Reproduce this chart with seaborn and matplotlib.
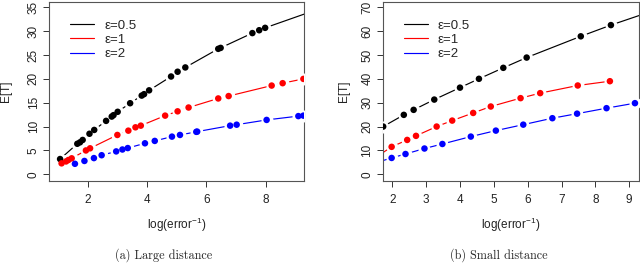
import numpy as np
import pandas as pd
import matplotlib
matplotlib.use("Agg")
import matplotlib.pyplot as plt
import matplotlib.transforms as mtransforms
import seaborn as sns

# ---------------- data ----------------
series_labels = ["ε=0.5", "ε=1", "ε=2"]
series_colors = ["black", "red", "blue"]

# (a) Large distance
a_black_x = [1.07, 1.65, 1.74, 1.83, 2.06, 2.22, 2.62, 2.81, 2.87, 3.01, 3.43, 3.82, 3.90, 4.07,
             4.81, 5.03, 5.29, 6.40, 6.48, 7.55, 7.78, 7.98, 9.90]
a_black_y = [3.2, 6.4, 6.7, 7.2, 8.5, 9.3, 11.2, 12.1, 12.4, 13.1, 14.9, 16.5, 16.8, 17.6,
             20.5, 21.5, 22.4, 26.3, 26.5, 29.6, 30.2, 30.7, 34.9]
a_red_x = [1.12, 1.27, 1.35, 1.46, 1.94, 2.08, 3.00, 3.37, 3.61, 3.79, 4.61, 5.03, 5.40,
           6.40, 6.75, 8.20, 8.57, 9.27]
a_red_y = [2.3, 2.7, 3.0, 3.35, 5.0, 5.45, 8.25, 9.15, 9.85, 10.2, 12.3, 13.2, 14.0,
           15.9, 16.4, 18.6, 19.1, 20.0]
a_blue_x = [1.57, 1.89, 2.21, 2.47, 2.96, 3.17, 3.35, 3.93, 4.26, 4.84, 5.11, 5.66, 5.69,
            6.80, 7.02, 8.03, 9.10, 9.27]
a_blue_y = [2.2, 2.8, 3.4, 4.0, 4.8, 5.2, 5.5, 6.5, 7.0, 7.9, 8.25, 8.9, 8.95,
            10.2, 10.4, 11.4, 12.2, 12.3]

# (b) Small distance
b_black_x = [1.73, 2.34, 2.63, 3.24, 4.00, 4.56, 5.28, 5.97, 7.57, 8.46, 9.50]
b_black_y = [20.0, 24.9, 27.0, 31.3, 36.3, 40.0, 44.6, 48.9, 57.8, 62.5, 67.5]
b_red_x = [1.50, 1.98, 2.44, 2.70, 3.31, 3.77, 4.39, 4.91, 5.79, 6.37, 7.48, 8.43]
b_red_y = [7.0, 11.5, 14.4, 16.1, 20.0, 22.5, 25.7, 28.4, 31.9, 34.0, 37.2, 39.0]
b_blue_x = [1.50, 1.98, 2.39, 2.95, 3.48, 4.32, 5.06, 5.87, 6.73, 7.46, 8.33, 9.17]
b_blue_y = [4.8, 6.85, 8.5, 10.8, 12.7, 15.8, 18.3, 20.8, 23.5, 25.4, 27.7, 29.8]

a_xticks = [2, 4, 6, 8]
a_yticks = [0, 5, 10, 15, 20, 25, 30, 35]
b_xticks = [2, 3, 4, 5, 6, 7, 8, 9]
b_yticks = [0, 10, 20, 30, 40, 50, 60, 70]

xlabel = "log(error$^{-1}$)"
ylabel = "E[T]"
captions = ["(a) Large distance", "(b) Small distance"]


def make_df(xs, ys):
    frames = []
    for lab, x, y in zip(series_labels, xs, ys):
        frames.append(pd.DataFrame({"x": x, "y": y, "series": lab}))
    return pd.concat(frames, ignore_index=True)


df_a = make_df([a_black_x, a_red_x, a_blue_x], [a_black_y, a_red_y, a_blue_y])
df_b = make_df([b_black_x, b_red_x, b_blue_x], [b_black_y, b_red_y, b_blue_y])

# ---------------- style ----------------
sns.set_style("white")
plt.rcParams["font.family"] = ["Liberation Sans", "DejaVu Sans"]
plt.rcParams["mathtext.fontset"] = "custom"
plt.rcParams["mathtext.rm"] = "Liberation Sans"
plt.rcParams["mathtext.it"] = "Liberation Sans"

palette = dict(zip(series_labels, series_colors))

fig = plt.figure(figsize=(6.4, 2.64), dpi=100)
W, H = 640.0, 264.0


def axes_px(x0, x1, y0, y1):
    return fig.add_axes([x0 / W, 1 - y1 / H, (x1 - x0) / W, (y1 - y0) / H])


ax_a = axes_px(49, 304.3, 1.7, 180.7)
ax_b = axes_px(382.7, 639, 1.7, 180.7)

setups = [
    (ax_a, df_a, (0.696, 9.30), (-1.34, 36.18), a_xticks, a_yticks, 6.0),
    (ax_b, df_b, (1.716, 9.29), (-2.68, 72.3), b_xticks, b_yticks, 344.0),
]

for ax, df, xl, yl, xt, yt, ylab_x in setups:
    sns.lineplot(data=df, x="x", y="y", hue="series", palette=palette,
                 sort=False, estimator=None, linewidth=0.85, ax=ax, zorder=2,
                 legend=True)
    # white halos to leave gaps around points (R type="b")
    sns.scatterplot(data=df, x="x", y="y", color="white", s=75, linewidth=0,
                    ax=ax, zorder=3, legend=False)
    sns.scatterplot(data=df, x="x", y="y", hue="series", palette=palette,
                    s=22, linewidth=0, ax=ax, zorder=4, legend=False)
    ax.set_xlim(*xl)
    ax.set_ylim(*yl)
    ax.set_xticks(xt)
    ax.set_yticks(yt)
    ax.set_xticklabels([str(v) for v in xt])
    ax.set_yticklabels([str(v) for v in yt], rotation=90, va="center")
    ax.tick_params(axis="both", direction="out", length=4.3, width=0.7,
                   colors="#333333", labelcolor="#222222", labelsize=8.5,
                   bottom=True, left=True)
    ax.tick_params(axis="x", pad=5.5)
    ax.tick_params(axis="y", pad=2.5)
    for sp in ax.spines.values():
        sp.set_visible(True)
        sp.set_color("#555555")
        sp.set_linewidth(0.8)
    ax.set_xlabel(xlabel, fontsize=8.5, color="#222222")
    ax.set_ylabel(ylabel, fontsize=8.5, color="#222222")
    # place axis labels at pixel positions
    ax.xaxis.set_label_coords(0.5, 1 - 225 / H,
                              transform=mtransforms.blended_transform_factory(ax.transAxes, fig.transFigure))
    ax.xaxis.label.set_va("center")
    ax.yaxis.set_label_coords(ylab_x / W, 0.5,
                              transform=mtransforms.blended_transform_factory(fig.transFigure, ax.transAxes))
    ax.yaxis.label.set_va("center")
    handles, labels = ax.get_legend_handles_labels()
    ax.legend(handles, labels, loc="upper left", frameon=False, fontsize=9.5,
              handlelength=1.8, handletextpad=0.75, labelspacing=0.15,
              borderaxespad=0.0, bbox_to_anchor=(0.063, 0.93))

for ax in (ax_a, ax_b):
    leg = ax.get_legend()
    for ln in leg.get_lines():
        ln.set_linewidth(0.85)

fig.text(163.5 / W, 1 - 255 / H, captions[0], ha="center", va="center",
         fontsize=8.8, family=["cmr10", "DejaVu Serif"])
fig.text(498.5 / W, 1 - 255 / H, captions[1], ha="center", va="center",
         fontsize=8.8, family=["cmr10", "DejaVu Serif"])

fig.savefig("out.png", dpi=100)
